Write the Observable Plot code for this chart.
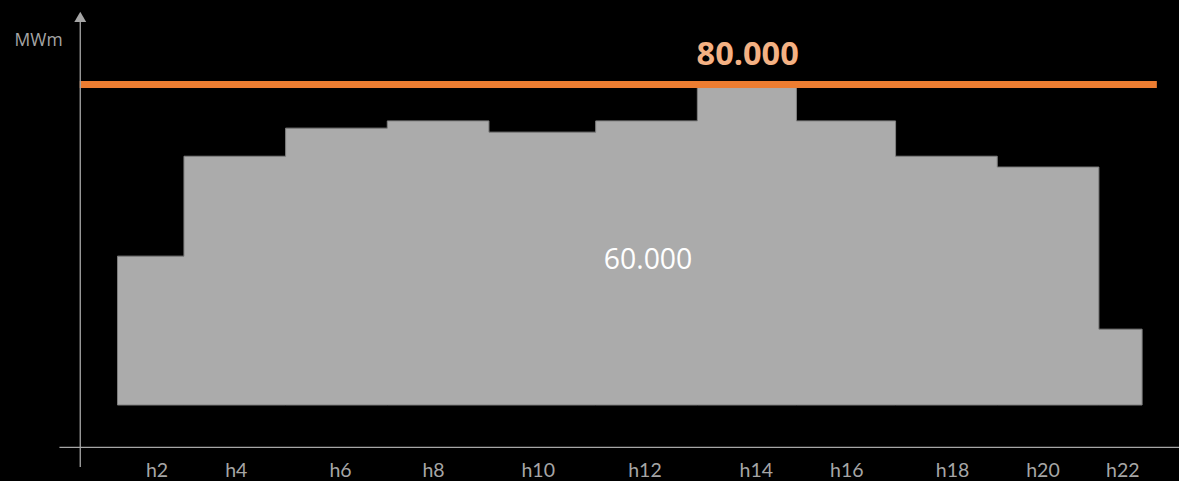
<!DOCTYPE html>
<html>
<head>
<meta charset="utf-8">
<script src="https://cdn.jsdelivr.net/npm/d3@7"></script>
<script src="https://cdn.jsdelivr.net/npm/@observablehq/plot@0.6"></script>
<style>
  html, body { margin: 0; padding: 0; background: #000; }
  #chart svg { display: block; }
</style>
</head>
<body>
<div id="chart"></div>
<script>
// Step boundaries (hour) and load level (MWm) of each block
const blockStart = [0.7, 2, 4, 6, 8, 10.1, 12.1, 14.05, 16, 18, 20];
const blockEnd = 20.85;
const blockValue = [37100, 62000, 69000, 70800, 68000, 70800, 80000, 70800, 62000, 59300, 18900];

// Reference line
const capValue = 80000;
const capLabel = "80.000";
const capLabelPos = {x: 13.08, y: 87500};
const areaLabel = "60.000";
const areaLabelPos = {x: 11.12, y: 36400};

// X tick labels and their positions (hours)
const tickLabels = ["h2", "h4", "h6", "h8", "h10", "h12", "h14", "h16", "h18", "h20", "h22"];
const tickPos = [1.46, 3.02, 5.07, 6.90, 8.96, 11.06, 13.25, 15.03, 17.11, 18.89, 20.46];

const unitLabel = "MWm";

// Axis extents in data units
const xAxisStart = -0.45, xAxisEnd = 21.62, yAxisX = -0.05;
const xAxisY = -10450, yAxisBottom = -15450, yAxisTop = 95500, arrowY = 96400;
const capEnd = 21.14;
const tickLabelY = -16150;

const stepData = blockStart.map((s, i) => ({x: s, y: blockValue[i]}));
stepData.push({x: blockEnd, y: blockValue[blockValue.length - 1]});

const ticks = tickLabels.map((t, i) => ({label: t, x: tickPos[i]}));

const grey = "#a6a6a6";

const chart = Plot.plot({
  width: 1179,
  height: 481,
  margin: 0,
  style: {background: "#000", fontFamily: "'Open Sans', sans-serif"},
  x: {domain: [0, 20], range: [82.3, 1098.9], axis: null},
  y: {domain: [0, 80000], range: [405, 84], axis: null},
  marks: [
    Plot.areaY(stepData, {x: "x", y: "y", curve: "step-after", fill: "#ababab", stroke: "#7f7f7f", strokeWidth: 1}),
    Plot.ruleY([capValue], {x1: yAxisX, x2: capEnd, stroke: "#ED7D31", strokeWidth: 7}),
    Plot.ruleY([xAxisY], {x1: xAxisStart, x2: xAxisEnd, stroke: grey, strokeWidth: 1.3}),
    Plot.ruleX([yAxisX], {y1: yAxisBottom, y2: yAxisTop, stroke: grey, strokeWidth: 1.3}),
    Plot.dot([{x: yAxisX, y: arrowY}], {x: "x", y: "y", symbol: "triangle", r: 4.4, fill: grey, stroke: "none"}),
    Plot.text(ticks, {x: "x", y: tickLabelY, text: "label", fill: grey, fontSize: 19.5, fontFamily: "Lato, sans-serif", lineAnchor: "middle"}),
    Plot.text([unitLabel], {x: -0.87, y: 91000, text: d => d, fill: grey, fontSize: 17.5, lineAnchor: "middle"}),
    Plot.text([capLabel], {x: capLabelPos.x, y: capLabelPos.y, text: d => d, fill: "#F4B183", fontSize: 32.5, fontWeight: "bold", lineAnchor: "middle"}),
    Plot.text([areaLabel], {x: areaLabelPos.x, y: areaLabelPos.y, text: d => d, fill: "#ffffff", fontSize: 28.4, lineAnchor: "middle"})
  ]
});
document.getElementById("chart").appendChild(chart);
</script>
</body>
</html>
